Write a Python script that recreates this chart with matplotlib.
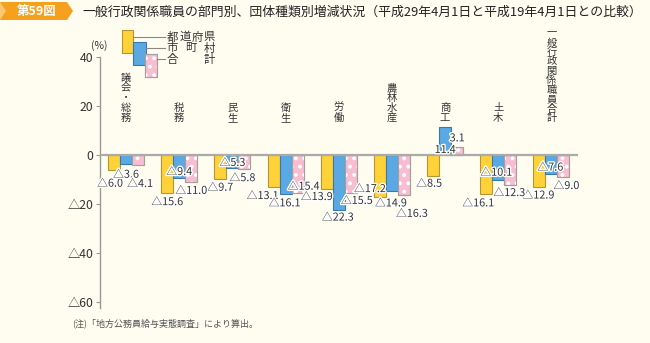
import matplotlib.pyplot as plt
from matplotlib.patches import Polygon, Rectangle
from matplotlib.lines import Line2D
import matplotlib.patheffects as pe
import numpy as np

plt.rcParams['font.family'] = ['Noto Sans CJK JP', 'DejaVu Sans']
plt.rcParams['hatch.linewidth'] = 1.6

# data
categories = ['議会・総務', '税務', '民生', '衛生', '労働', '農林水産', '商工', '土木', '一般行政関係職員合計']
series_names = ['都道府県', '市町村', '合計']
pref = [-6.0, -15.6, -9.7, -13.1, -13.9, -17.2, -8.5, -16.1, -12.9]
muni = [-3.6, -9.4, -5.3, -16.1, -22.3, -14.9, 11.4, -10.1, -7.6]
total = [-4.1, -11.0, -5.8, -15.4, -15.5, -16.3, 3.1, -12.3, -9.0]
yticks = [40, 20, 0, -20, -40, -60]
ytick_labels = ['40', '20', '0', '△20', '△40', '△60']

# label offsets in pixels (dx, dy) from bar end
off_pref = [(-4, -14), (0, -9), (0, -9), (-11, -9), (-10, -8), (-10, 8), (-4, -8), (-8, -9), (-1, -9)]
off_muni = [(0, -11), (0, 6), (0, 5), (-1, -9), (-1, -8), (-1, -12), (0, -23), (-2, 7), (-1, 6)]
off_total = [(2, -19), (0, -9), (-2, -9), (6, 6), (6, -8), (8, -19), (0, 9), (-1, -8), (3, -9)]

W, H = 650, 343
bg = '#FFFDF0'
yellow, yellow_e = '#FFD23A', '#B89530'
blue, blue_e = '#5AA9E2', '#3A78B0'
pink, pink_e = '#F8BDD1', '#A5A0A0'
txt = '#333333'


def fx(x):
    return x / W


def fy(y):
    return 1 - y / H


fig = plt.figure(figsize=(6.5, 3.43), dpi=100, facecolor=bg)
ax = fig.add_axes([fx(100), fy(308), fx(578) - fx(100), fy(57) - fy(308)])
ax.set_facecolor('none')

x = np.arange(len(categories))
bw = 12 / 53.2
series = [(pref, yellow, yellow_e, off_pref), (muni, blue, blue_e, off_muni), (total, pink, pink_e, off_total)]
for i, (vals, fc, ec, offs) in enumerate(series):
    xs = x + (i - 1) * bw
    ax.bar(xs, vals, bw, color=fc, edgecolor=ec, linewidth=0.8, zorder=2)
    if i == 2:
        ax.bar(xs, vals, bw, facecolor='none', edgecolor='white', linewidth=0, hatch='..', zorder=2.5)
        ax.bar(xs, vals, bw, facecolor='none', edgecolor=ec, linewidth=0.8, zorder=2.6)
    for xi, v, (dx, dy) in zip(xs, vals, offs):
        s = f'{v:.1f}' if v > 0 else '△' + f'{abs(v):.1f}'
        ax.annotate(s, (xi, v), xytext=(dx, dy), textcoords='offset pixels',
                    ha='center', va='center', fontsize=7.8, color=txt, zorder=5,
                    path_effects=[pe.withStroke(linewidth=2, foreground='white')])

ax.axhline(0, color='#AAAAAA', lw=1.6, zorder=3)
ax.set_xlim(-0.49, 8.5)
ax.set_ylim(-62.5, 40)
ax.set_yticks(yticks)
ax.set_yticklabels(ytick_labels, fontsize=8.8, color=txt)
ax.set_xticks([])
for s in ['top', 'right', 'bottom']:
    ax.spines[s].set_visible(False)
ax.spines['left'].set_color('#999999')
ax.spines['left'].set_linewidth(1)
ax.tick_params(axis='y', length=3, width=0.8, color='#999999', pad=2)

# vertical category labels
for k, cat in enumerate(categories):
    n = len(cat)
    pitch = 9.4 if n > 6 else 10
    for j, ch in enumerate(cat):
        ax.annotate(ch, (k, 0), xytext=(0, 37 + (n - 1 - j) * pitch), textcoords='offset pixels',
                    ha='center', va='center', fontsize=7.4, color=txt)

fig.text(fx(99), fy(46), '(%)', ha='center', va='center', fontsize=7.5, color=txt)

# legend
legend_boxes = [(122, 30, 11, 23, yellow, yellow_e, 37), (133, 42, 13, 23, blue, blue_e, 48),
                (145, 54, 12, 23, pink, pink_e, 59)]
for i, (lx, ly, lw_, lh, fc, ec, ty) in enumerate(legend_boxes):
    r = Rectangle((fx(lx), fy(ly + lh)), fx(lw_), lh / H, transform=fig.transFigure,
                  facecolor=fc, edgecolor=ec, linewidth=0.8)
    fig.patches.append(r)
    if i == 2:
        r2 = Rectangle((fx(lx), fy(ly + lh)), fx(lw_), lh / H, transform=fig.transFigure,
                       facecolor='none', edgecolor='white', linewidth=0, hatch='..')
        fig.patches.append(r2)
        r3 = Rectangle((fx(lx), fy(ly + lh)), fx(lw_), lh / H, transform=fig.transFigure,
                       facecolor='none', edgecolor=ec, linewidth=0.8)
        fig.patches.append(r3)
    fig.lines.append(Line2D([fx(lx + lw_), fx(165)], [fy(ty), fy(ty)], transform=fig.transFigure,
                            color='#888888', lw=0.8))
    name = series_names[i]
    m = len(name)
    for j, ch in enumerate(name):
        cx = 172.5 + j * (37 / (m - 1))
        fig.text(fx(cx), fy(ty), ch, ha='center', va='center', fontsize=8.2, color=txt)

# title banner
fig.patches.append(Polygon([(fx(0), fy(2)), (fx(67), fy(2)), (fx(73), fy(11)), (fx(67), fy(20)), (fx(0), fy(20))],
                           closed=True, transform=fig.transFigure, facecolor='#F5A11E', edgecolor='none'))
fig.patches.append(Polygon([(fx(0), fy(2)), (fx(6), fy(11)), (fx(0), fy(20))],
                           closed=True, transform=fig.transFigure, facecolor='#FAC873', edgecolor='none'))
fig.text(fx(37), fy(11.5), '第59図', ha='center', va='center', fontsize=9, color='white', fontweight='bold')
fig.text(fx(82), fy(12), '一般行政関係職員の部門別、団体種類別増減状況（平成29年4月1日と平成19年4月1日との比較）',
         ha='left', va='center', fontsize=9.3, color='#222222')

fig.text(fx(72), fy(323), '(注)「地方公務員給与実態調査」により算出。', ha='left', va='center',
         fontsize=6.5, color='#555555')

fig.savefig('out.png', dpi=100, facecolor=bg)
